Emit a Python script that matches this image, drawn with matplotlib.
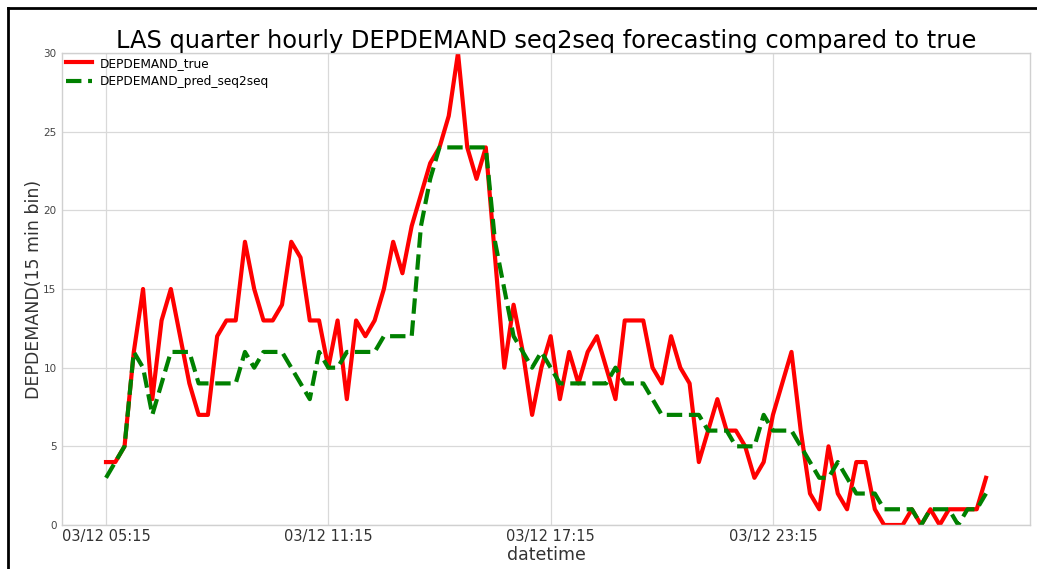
import numpy as np
import pandas as pd
import matplotlib
matplotlib.use('Agg')
import matplotlib.pyplot as plt
import matplotlib.dates as mdates
from matplotlib.lines import Line2D

# quarter hourly bins starting 03/12 05:15
start_time = '2018-03-12 05:15'
n_bins = 96

dep_true = [4, 4, 5, 11, 15, 8, 13, 15, 12, 9, 7, 7, 12, 13, 13, 18, 15, 13, 13, 14,
            18, 17, 13, 13, 10, 13, 8, 13, 12, 13, 15, 18, 16, 19, 21, 23, 24, 26, 30, 24,
            22, 24, 17, 10, 14, 11, 7, 10, 12, 8, 11, 9, 11, 12, 10, 8, 13, 13, 13, 10,
            9, 12, 10, 9, 4, 6, 8, 6, 6, 5, 3, 4, 7, 9, 11, 6, 2, 1, 5, 2,
            1, 4, 4, 1, 0, 0, 0, 1, 0, 1, 0, 1, 1, 1, 1, 3]

dep_pred = [3, 4, 5, 11, 10, 7, 9, 11, 11, 11, 9, 9, 9, 9, 9, 11, 10, 11, 11, 11,
            10, 9, 8, 11, 10, 10, 11, 11, 11, 11, 12, 12, 12, 12, 19, 22, 24, 24, 24, 24,
            24, 24, 18, 15, 12, 11, 10, 11, 10, 9, 9, 9, 9, 9, 9, 10, 9, 9, 9, 8,
            7, 7, 7, 7, 7, 6, 6, 6, 5, 5, 5, 7, 6, 6, 6, 5, 4, 3, 3, 4,
            3, 2, 2, 2, 1, 1, 1, 1, 0, 1, 1, 1, 0, 1, 1, 2]

times = pd.date_range(start_time, periods=n_bins, freq='15min')
df = pd.DataFrame({'DEPDEMAND_true': dep_true, 'DEPDEMAND_pred_seq2seq': dep_pred}, index=times)

fig = plt.figure(figsize=(10.37, 5.69), dpi=100)
ax = fig.add_axes([62/1037, 1 - 525/569, (1030-62)/1037, (525-53)/569])

ax.plot(df.index, df['DEPDEMAND_true'], color='r', lw=3, label='DEPDEMAND_true')
ax.plot(df.index, df['DEPDEMAND_pred_seq2seq'], color='g', lw=3, ls='--', label='DEPDEMAND_pred_seq2seq')

ax.margins(x=0.05)
ax.set_ylim(0, 30)
# ticks every 6 hours, on the :15
ax.set_xticks(pd.date_range(start_time, periods=4, freq='6h'))
ax.xaxis.set_major_formatter(mdates.DateFormatter('%m/%d %H:%M'))

ax.grid(True, color='#d9d9d9', lw=0.9)
ax.set_axisbelow(True)
for s in ax.spines.values():
    s.set_color('#d0d0d0')
    s.set_linewidth(1)
ax.tick_params(axis='both', length=0)
ax.tick_params(axis='y', labelsize=7.5, labelcolor='#444444', pad=4)
ax.tick_params(axis='x', labelsize=10.5, labelcolor='#333333', pad=3)

ax.set_xlabel('datetime', fontsize=12.5, color='#333333', labelpad=1)
ax.set_ylabel('DEPDEMAND(15 min bin)', fontsize=12.5, color='#333333', labelpad=0)
ax.set_title('LAS quarter hourly DEPDEMAND seq2seq forecasting compared to true', fontsize=17.4, pad=2)

ax.legend(loc='upper left', frameon=False, fontsize=8.7, handlelength=2.2, handletextpad=0.6,
          borderaxespad=0.0, borderpad=0.3, labelspacing=0.45)

# black frame of the original screenshot (left and top edge)
fig.add_artist(Line2D([8/1037, 8/1037], [0, 1 - 8/569], color='black', lw=2, transform=fig.transFigure))
fig.add_artist(Line2D([8/1037, 1], [1 - 8/569, 1 - 8/569], color='black', lw=2, transform=fig.transFigure))

fig.savefig('out.png', dpi=100)
